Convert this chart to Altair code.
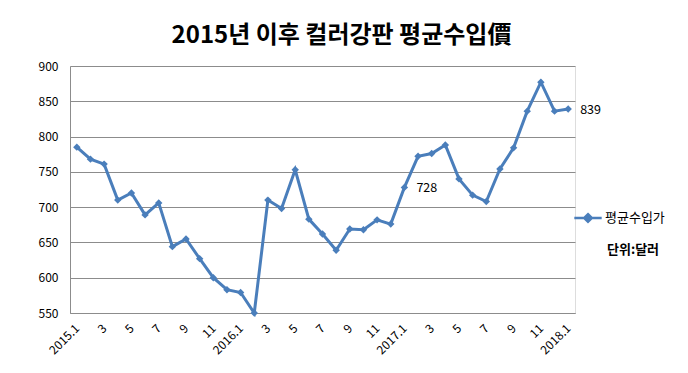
import altair as alt
import pandas as pd

years = [2015] * 12 + [2016] * 12 + [2017] * 12 + [2018]
months = list(range(1, 13)) * 3 + [1]
prices = [785, 768, 761, 710, 720, 689, 706, 644, 655, 627, 600, 583,
          579, 550, 710, 698, 753, 683, 662, 639, 669, 668, 682, 676,
          728, 772, 776, 788, 740, 717, 708, 754, 784, 836, 877, 836,
          839]
series_name = "평균수입가"
unit_text = "단위:달러"
title_text = "2015년 이후 컬러강판 평균수입價"

keys = [f"{y}.{m}" for y, m in zip(years, months)]
df = pd.DataFrame({"key": keys, "price": prices, "series": series_name})
df["label"] = ""
df.loc[24, "label"] = str(prices[24])
df.loc[36, "label"] = str(prices[36])

FONT = "Noto Sans CJK KR"
BLUE = "#4A7EBB"
GRID = "#8C8C8C"

label_expr = ("split(datum.value,'.')[1] == '1' ? datum.value : "
              "(parseInt(split(datum.value,'.')[1]) % 2 == 1 ? split(datum.value,'.')[1] : '')")

x = alt.X("key:O", sort=keys, scale=alt.Scale(type="point", padding=0.5),
          axis=alt.Axis(title=None, labelAngle=-45, labelAlign="right", labelBaseline="middle",
                        labelExpr=label_expr, ticks=False, domainColor=GRID, labelPadding=13,
                        labelFontSize=12, labelFont=FONT, labelColor="#000", grid=False,
                        labelOverlap=False))
y = alt.Y("price:Q", scale=alt.Scale(domain=[550, 900], nice=False, zero=False),
          axis=alt.Axis(title=None, values=list(range(550, 901, 50)), ticks=False,
                        domainColor=GRID, gridColor=GRID, gridOpacity=1, labelPadding=12,
                        labelFontSize=12, labelFont=FONT, labelColor="#000"))

diamond_line = "M-1,0L1,0M0,-0.28L0.28,0L0,0.28L-0.28,0Z"

line = alt.Chart(df).mark_line(strokeWidth=3).encode(
    x=x, y=y,
    color=alt.Color("series:N", scale=alt.Scale(range=[BLUE]),
                    legend=alt.Legend(title=None, orient="none", legendX=503, legendY=137,
                                      symbolType=diamond_line, symbolSize=750,
                                      symbolStrokeWidth=2.5, symbolFillColor=BLUE,
                                      symbolStrokeColor=BLUE,
                                      labelFont=FONT, labelFontSize=13, labelColor="#000",
                                      labelOffset=2)))
points = alt.Chart(df).mark_point(shape="diamond", filled=True, size=55, opacity=1, color=BLUE).encode(
    x=x, y=y)
labels = alt.Chart(df).mark_text(align="left", baseline="middle", dx=12, dy=1,
                                 font=FONT, fontSize=12.5, color="#000").encode(
    x=x, y=y, text="label:N")
unit = alt.Chart(pd.DataFrame({"t": [unit_text]})).mark_text(
    align="left", baseline="middle", font=FONT, fontSize=13, fontWeight="bold", color="#000"
).encode(x=alt.value(537), y=alt.value(184), text="t:N")

chart = alt.layer(line, points, labels, unit).properties(
    width=505, height=247,
    title=alt.Title(title_text, font=FONT, fontSize=24, fontWeight="bold", color="#000",
                    anchor="middle", dx=19, offset=12),
    autosize=alt.AutoSizeParams(type="none"),
    padding={"left": 62, "top": 58, "right": 105, "bottom": 50},
).configure_view(stroke=None).configure(background="white")

chart.save("out.html", embed_options={"renderer": "svg", "actions": False})
